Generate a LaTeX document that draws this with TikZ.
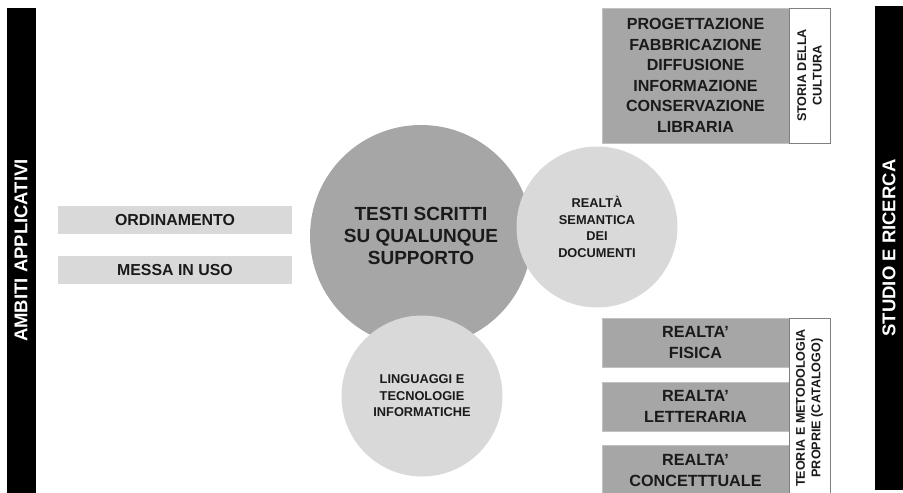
\documentclass[tikz,border=0pt]{standalone}
\usepackage{fontspec}
\setmainfont{Liberation Sans}
\definecolor{darkgr}{HTML}{A6A6A6}
\definecolor{lightgr}{HTML}{D9D9D9}
\definecolor{inkgr}{HTML}{1A1A1A}
\tikzset{
  sidebar/.style={fill=black,text=white,rotate=90,inner sep=0pt,minimum height=29pt,
    font=\fontsize{18.5}{20}\selectfont\bfseries},
  darkbox/.style={fill=darkgr,draw=darkgr!70!white,text=inkgr,align=center,inner sep=0pt,
    minimum width=187pt,font=\fontsize{16.2}{21}\selectfont\bfseries},
  lightbox/.style={fill=lightgr,text=inkgr,inner sep=0pt,minimum width=234pt,minimum height=28pt,
    font=\fontsize{15.9}{18}\selectfont\bfseries},
  sidetag/.style={fill=white,draw=gray,text=inkgr,rotate=90,align=center,inner sep=0pt,
    minimum height=41pt,font=\fontsize{12.6}{15.5}\selectfont\bfseries},
  bigdisc/.style={circle,fill=darkgr,text=inkgr,align=center,inner sep=0pt,minimum size=222pt,
    font=\fontsize{19}{22}\selectfont\bfseries},
  smalldisc/.style={circle,fill=lightgr,text=inkgr,align=center,inner sep=0pt,minimum size=161pt,
    font=\fontsize{12.8}{16.5}\selectfont\bfseries}
}
\begin{document}
\begin{tikzpicture}[x=1pt,y=-1pt]
\useasboundingbox (0,0) rectangle (903,493);
\begin{scope}
\clip (0,0) rectangle (903,493);
% side bars
\node[sidebar,minimum width=485pt] (ambiti) at (21,250.5) {AMBITI APPLICATIVI};
\node[sidebar,minimum width=484pt,minimum height=28pt] (studio) at (889,248) {STUDIO E RICERCA};
% left boxes
\node[lightbox] (ordin) at (175,220) {ORDINAMENTO};
\node[lightbox] (messa) at (175,270) {MESSA IN USO};
% circles
\node[bigdisc] (testi) at (421,236) {TESTI SCRITTI\\SU QUALUNQUE\\SUPPORTO};
\node[smalldisc] (sem) at (597,227) {REALTÀ\\SEMANTICA\\DEI\\DOCUMENTI};
\node[smalldisc] (ling) at (422,396) {LINGUAGGI E\\TECNOLOGIE\\INFORMATICHE};
% top right
\node[darkbox,minimum height=135pt,font=\fontsize{16.1}{20.5}\selectfont\bfseries] (prog) at (695.5,75.5)
  {PROGETTAZIONE\\FABBRICAZIONE\\DIFFUSIONE\\INFORMAZIONE\\CONSERVAZIONE\\LIBRARIA};
\node[sidetag,minimum width=135pt] (storia) at (809.5,75.5) {STORIA DELLA\\CULTURA};
% bottom right
\node[darkbox,minimum height=49pt] (fis) at (695.5,342.5) {REALTA'\\FISICA};
\node[darkbox,minimum height=49pt] (lett) at (695.5,406.5) {REALTA'\\LETTERARIA};
\node[darkbox,minimum height=52pt] (conc) at (695.5,471) {REALTA'\\CONCETTTUALE};
\node[sidetag,minimum width=180pt] (teoria) at (809.5,408) {TEORIA E METODOLOGIA\\PROPRIE (CATALOGO)};
\end{scope}
\end{tikzpicture}
\end{document}
